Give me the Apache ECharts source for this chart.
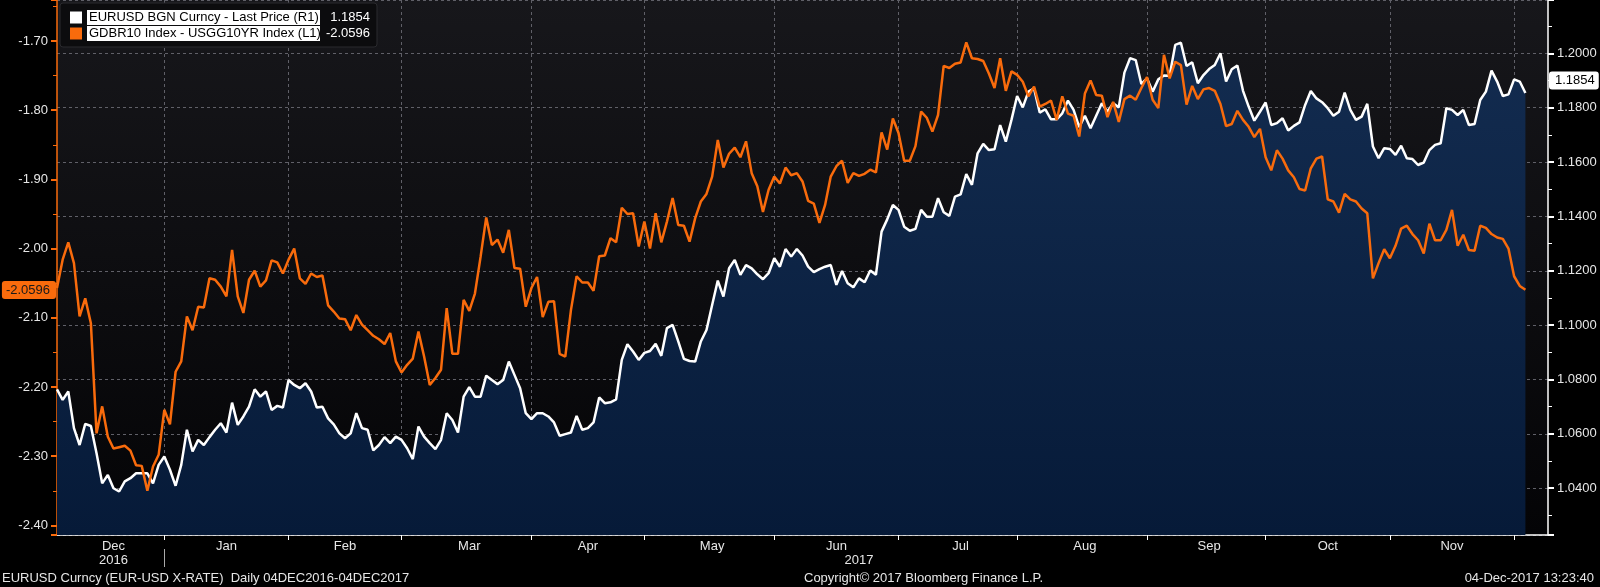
<!DOCTYPE html>
<html>
<head>
<meta charset="utf-8">
<script src="https://cdn.jsdelivr.net/npm/echarts@6/dist/echarts.min.js"></script>
<style>
  html, body { margin: 0; padding: 0; background: #000; }
  #chart { width: 1600px; height: 587px; }
</style>
</head>
<body>
<div id="chart"></div>
<script>
// weekday axis: first trading day, plus a few empty days after the last point
const startDate = '2016-12-05';
const padDays = 4;
const monthNames = ['Jan', 'Feb', 'Mar', 'Apr', 'May', 'Jun', 'Jul', 'Aug', 'Sep', 'Oct', 'Nov', 'Dec'];

const eurName = 'EURUSD BGN Curncy - Last Price (R1)';
const sprName = 'GDBR10 Index - USGG10YR Index (L1)';

// EURUSD (right axis)
const eurusd = [
  1.0764, 1.0725, 1.0756, 1.0621, 1.0559, 1.0637, 1.0629, 1.0529, 1.0418, 1.0449,
  1.0400, 1.0388, 1.0425, 1.0437, 1.0455, 1.0455, 1.0455, 1.0418, 1.0486, 1.0517,
  1.0468, 1.0409, 1.0486, 1.0615, 1.0535, 1.0578, 1.0559, 1.0588, 1.0615, 1.0639,
  1.0605, 1.0715, 1.0633, 1.0664, 1.0700, 1.0764, 1.0737, 1.0756, 1.0688, 1.0703,
  1.0697, 1.0798, 1.0780, 1.0768, 1.0786, 1.0756, 1.0697, 1.0700, 1.0657, 1.0635,
  1.0602, 1.0584, 1.0602, 1.0676, 1.0621, 1.0615, 1.0539, 1.0559, 1.0588, 1.0566,
  1.0590, 1.0578, 1.0547, 1.0507, 1.0627, 1.0590, 1.0566, 1.0544, 1.0578, 1.0676,
  1.0651, 1.0605, 1.0737, 1.0772, 1.0737, 1.0737, 1.0814, 1.0798, 1.0783, 1.0798,
  1.0866, 1.0817, 1.0768, 1.0676, 1.0654, 1.0676, 1.0676, 1.0664, 1.0642, 1.0593,
  1.0599, 1.0605, 1.0666, 1.0615, 1.0621, 1.0642, 1.0734, 1.0713, 1.0716, 1.0727,
  1.0872, 1.0930, 1.0903, 1.0872, 1.0898, 1.0905, 1.0931, 1.0887, 1.0989, 1.1001,
  1.0940, 1.0876, 1.0868, 1.0866, 1.0940, 1.0982, 1.1074, 1.1164, 1.1105, 1.1209,
  1.1240, 1.1185, 1.1221, 1.1209, 1.1187, 1.1169, 1.1191, 1.1246, 1.1215, 1.1280,
  1.1252, 1.1280, 1.1256, 1.1215, 1.1195, 1.1206, 1.1215, 1.1221, 1.1148, 1.1199,
  1.1154, 1.1139, 1.1172, 1.1158, 1.1201, 1.1185, 1.1344, 1.1389, 1.1442, 1.1424,
  1.1362, 1.1347, 1.1354, 1.1424, 1.1399, 1.1399, 1.1467, 1.1415, 1.1402, 1.1473,
  1.1481, 1.1556, 1.1516, 1.1632, 1.1667, 1.1644, 1.1647, 1.1736, 1.1675, 1.1755,
  1.1843, 1.1801, 1.1859, 1.1871, 1.1782, 1.1794, 1.1757, 1.1757, 1.1779, 1.1826,
  1.1792, 1.1728, 1.1770, 1.1724, 1.1770, 1.1816, 1.1785, 1.1816, 1.1801, 1.1929,
  1.1982, 1.1975, 1.1887, 1.1908, 1.1859, 1.1904, 1.1918, 1.1917, 1.2031, 1.2039,
  1.1953, 1.1967, 1.1890, 1.1920, 1.1942, 1.1957, 1.2000, 1.1896, 1.1941, 1.1955,
  1.1862, 1.1804, 1.1752, 1.1785, 1.1819, 1.1736, 1.1743, 1.1761, 1.1716, 1.1733,
  1.1746, 1.1810, 1.1861, 1.1834, 1.1820, 1.1798, 1.1770, 1.1785, 1.1855, 1.1792,
  1.1755, 1.1767, 1.1814, 1.1657, 1.1614, 1.1651, 1.1648, 1.1626, 1.1660, 1.1614,
  1.1611, 1.1589, 1.1598, 1.1644, 1.1663, 1.1669, 1.1798, 1.1792, 1.1773, 1.1792,
  1.1736, 1.1740, 1.1828, 1.1859, 1.1936, 1.1896, 1.1843, 1.1849, 1.1904, 1.1896, 1.1854
];

// Bund 10Y - UST 10Y spread (left axis)
const spread = [
  -2.057, -2.016, -1.991, -2.021, -2.098, -2.072, -2.108, -2.267, -2.228, -2.272,
  -2.289, -2.287, -2.285, -2.292, -2.313, -2.314, -2.350, -2.315, -2.298, -2.233,
  -2.254, -2.178, -2.163, -2.098, -2.118, -2.084, -2.085, -2.043, -2.045, -2.055,
  -2.069, -2.002, -2.069, -2.093, -2.045, -2.032, -2.055, -2.046, -2.017, -2.020,
  -2.036, -2.016, -2.000, -2.043, -2.051, -2.036, -2.041, -2.039, -2.082, -2.091,
  -2.101, -2.102, -2.118, -2.096, -2.110, -2.118, -2.126, -2.131, -2.138, -2.122,
  -2.163, -2.179, -2.168, -2.159, -2.120, -2.156, -2.197, -2.187, -2.175, -2.086,
  -2.152, -2.152, -2.074, -2.090, -2.065, -2.012, -1.955, -1.995, -1.987, -2.006,
  -1.973, -2.028, -2.029, -2.084, -2.057, -2.041, -2.099, -2.077, -2.076, -2.152,
  -2.156, -2.089, -2.040, -2.049, -2.049, -2.061, -2.011, -2.010, -1.985, -1.991,
  -1.941, -1.950, -1.949, -1.997, -1.961, -2.000, -1.949, -1.991, -1.961, -1.927,
  -1.966, -1.967, -1.990, -1.956, -1.932, -1.921, -1.896, -1.843, -1.883, -1.863,
  -1.854, -1.868, -1.845, -1.891, -1.910, -1.947, -1.915, -1.896, -1.906, -1.883,
  -1.894, -1.891, -1.903, -1.931, -1.935, -1.963, -1.937, -1.896, -1.881, -1.873,
  -1.905, -1.891, -1.895, -1.892, -1.886, -1.890, -1.832, -1.857, -1.812, -1.833,
  -1.873, -1.873, -1.852, -1.802, -1.811, -1.831, -1.807, -1.736, -1.739, -1.733,
  -1.731, -1.702, -1.725, -1.726, -1.729, -1.747, -1.768, -1.725, -1.772, -1.744,
  -1.749, -1.759, -1.780, -1.766, -1.795, -1.791, -1.786, -1.814, -1.780, -1.805,
  -1.808, -1.838, -1.776, -1.757, -1.778, -1.779, -1.810, -1.788, -1.817, -1.784,
  -1.779, -1.785, -1.768, -1.752, -1.785, -1.797, -1.720, -1.754, -1.730, -1.735,
  -1.792, -1.765, -1.784, -1.770, -1.768, -1.772, -1.791, -1.823, -1.820, -1.801,
  -1.814, -1.824, -1.839, -1.827, -1.868, -1.887, -1.858, -1.870, -1.887, -1.897,
  -1.914, -1.916, -1.884, -1.870, -1.867, -1.929, -1.932, -1.948, -1.921, -1.929,
  -1.932, -1.942, -1.949, -2.043, -2.021, -2.001, -2.014, -1.996, -1.971, -1.967,
  -1.979, -1.988, -2.007, -1.964, -1.988, -1.988, -1.973, -1.944, -1.996, -1.980,
  -2.002, -2.003, -1.967, -1.970, -1.979, -1.984, -1.986, -2.000, -2.040, -2.054, -2.0596
];

const leftRange = [-2.4139, -1.6408];
const rightRange = [1.0228, 1.2196];

const footerLeft = 'EURUSD Curncy (EUR-USD X-RATE)  Daily 04DEC2016-04DEC2017';
const footerMid = 'Copyright\u00A9 2017 Bloomberg Finance L.P.';
const footerRight = '04-Dec-2017 13:23:40';

const ORANGE = '#f96b0c';
const GRID = '#606068';
const TXT = '#e6e6e6';
const FONT = "'Liberation Sans', Arial, sans-serif";
const FS = 13;

function weekdays(start, n) {
  const out = [];
  const d = new Date(start + 'T00:00:00Z');
  while (out.length < n) {
    const wd = d.getUTCDay();
    if (wd !== 0 && wd !== 6) out.push(d.toISOString().slice(0, 10));
    d.setUTCDate(d.getUTCDate() + 1);
  }
  return out;
}

const dates = weekdays(startDate, eurusd.length + padDays);
const lastIdx = eurusd.length - 1;

// month boundaries = last weekday of each month, labels centred between them
const monthTicks = new Set();
const monthLabels = new Map();
const yearTicks = new Set();
const yearLabels = new Map();
let prev = 0, prevYear = 0;
for (let i = 0; i < dates.length - 1; i++) {
  if (dates[i].slice(0, 7) !== dates[i + 1].slice(0, 7)) {
    monthTicks.add(i);
    monthLabels.set(Math.round((prev + i) / 2), monthNames[+dates[i].slice(5, 7) - 1]);
    prev = i;
  }
  if (dates[i].slice(0, 4) !== dates[i + 1].slice(0, 4)) {
    yearTicks.add(i);
    yearLabels.set(Math.round((prevYear + i) / 2), dates[i].slice(0, 4));
    prevYear = i;
  }
}
yearLabels.set(Math.round((prevYear + dates.length - 1) / 2), dates[dates.length - 1].slice(0, 4));

const lastVals = {};
lastVals[eurName] = eurusd[lastIdx].toFixed(4);
lastVals[sprName] = spread[lastIdx].toFixed(4);

const chart = echarts.init(document.getElementById('chart'));

const footStyle = { color: TXT, fontSize: FS, fontWeight: 'normal', fontFamily: FONT };

chart.setOption({
  backgroundColor: '#000',
  animation: false,
  textStyle: { fontFamily: FONT },
  title: [
    { text: footerLeft, left: 2, top: 572, padding: 0, textStyle: footStyle },
    { text: footerMid, left: 804, top: 572, padding: 0, textStyle: footStyle },
    { text: footerRight, right: 6, top: 572, padding: 0, textStyle: footStyle }
  ],
  grid: {
    left: 57, right: 52, top: 0, bottom: 52,
    show: true, borderWidth: 0,
    backgroundColor: new echarts.graphic.LinearGradient(0, 0, 0, 1, [
      { offset: 0, color: '#17171b' },
      { offset: 1, color: '#040406' }
    ])
  },
  legend: {
    left: 60, top: 3,
    orient: 'vertical',
    icon: 'rect', itemWidth: 12, itemHeight: 12, itemGap: 1,
    padding: [7, 7, 6, 10],
    backgroundColor: '#0c0c0e', borderColor: '#2a2a2e', borderWidth: 1, borderRadius: 3,
    selectedMode: false,
    data: [
      { name: eurName, itemStyle: { color: '#fff' } },
      { name: sprName, itemStyle: { color: ORANGE } }
    ],
    formatter: name => `{n|${name}}{v|${lastVals[name]}}`,
    textStyle: {
      rich: {
        n: { backgroundColor: '#fff', color: '#000', fontSize: FS, lineHeight: 15, width: 229, padding: [1, 2] },
        v: { color: '#fff', fontSize: FS, lineHeight: 15, width: 50, align: 'right' }
      }
    }
  },
  xAxis: [
    {
      type: 'category', data: dates, boundaryGap: false, position: 'bottom',
      axisLine: { lineStyle: { color: '#fff', width: 1.5 } },
      axisTick: { show: true, interval: i => monthTicks.has(i), length: 5, lineStyle: { color: '#fff' } },
      axisLabel: {
        interval: i => monthLabels.has(i),
        formatter: (v, i) => monthLabels.get(i) || '',
        color: TXT, fontSize: FS, margin: 5
      },
      splitLine: { show: true, interval: i => monthTicks.has(i), lineStyle: { color: GRID, type: [3, 3] } }
    },
    {
      type: 'category', data: dates, boundaryGap: false, position: 'bottom', offset: 14,
      axisLine: { show: false },
      axisTick: { show: true, interval: i => yearTicks.has(i), length: 18, lineStyle: { color: '#aaa' } },
      axisLabel: {
        interval: i => yearLabels.has(i),
        formatter: (v, i) => yearLabels.get(i) || '',
        color: TXT, fontSize: FS, margin: 5
      },
      splitLine: { show: false }
    }
  ],
  yAxis: [
    {
      type: 'value', position: 'left',
      min: leftRange[0], max: leftRange[1],
      splitNumber: 8, minInterval: 0.1, maxInterval: 0.1,
      axisLine: { show: true, lineStyle: { color: ORANGE, width: 1.5 } },
      axisTick: { show: true, length: 6, lineStyle: { color: ORANGE, width: 2 } },
      minorTick: { show: true, splitNumber: 2, length: 4, lineStyle: { color: ORANGE } },
      axisLabel: { color: TXT, fontSize: FS, margin: 9, showMinLabel: false, showMaxLabel: false, formatter: v => v.toFixed(2) },
      splitLine: { show: false }
    },
    {
      type: 'value', position: 'right',
      min: rightRange[0], max: rightRange[1],
      splitNumber: 10, minInterval: 0.02, maxInterval: 0.02,
      axisLine: { show: true, lineStyle: { color: '#fff', width: 1.5 } },
      axisTick: { show: true, length: 6, lineStyle: { color: '#fff', width: 2 } },
      minorTick: { show: true, splitNumber: 2, length: 4, lineStyle: { color: '#fff' } },
      axisLabel: { color: TXT, fontSize: FS, margin: 9, showMinLabel: false, showMaxLabel: false, formatter: v => v.toFixed(4) },
      splitLine: { show: true, lineStyle: { color: GRID, type: [3, 3] } }
    }
  ],
  series: [
    {
      name: eurName, type: 'line', xAxisIndex: 0, yAxisIndex: 1,
      data: eurusd, symbol: 'none', z: 2,
      lineStyle: { color: '#fff', width: 2.5 },
      itemStyle: { color: '#fff' },
      areaStyle: {
        origin: 'start', opacity: 1,
        color: new echarts.graphic.LinearGradient(0, 0, 0, 1, [
          { offset: 0, color: '#132c50' },
          { offset: 1, color: '#061a38' }
        ])
      },
      markLine: {
        silent: true, symbol: 'none', z: 10,
        lineStyle: { width: 0, color: 'rgba(0,0,0,0)' },
        data: [{ yAxis: eurusd[lastIdx] }],
        label: {
          show: true, position: 'end', distance: 1, formatter: () => lastVals[eurName],
          backgroundColor: '#fff', color: '#000', fontSize: FS, padding: [3, 4, 2, 6], borderRadius: 3
        }
      }
    },
    {
      name: sprName, type: 'line', xAxisIndex: 0, yAxisIndex: 0,
      data: spread, symbol: 'none', z: 3,
      lineStyle: { color: ORANGE, width: 2.5 },
      itemStyle: { color: ORANGE },
      markLine: {
        silent: true, symbol: 'none', z: 10,
        lineStyle: { width: 0, color: 'rgba(0,0,0,0)' },
        data: [{ yAxis: spread[lastIdx] }],
        label: {
          show: true, position: 'start', distance: 1, formatter: () => lastVals[sprName],
          backgroundColor: ORANGE, color: '#1a1a1a', fontSize: FS, padding: [3, 6, 2, 4], borderRadius: 3
        }
      }
    }
  ]
});
</script>
</body>
</html>
